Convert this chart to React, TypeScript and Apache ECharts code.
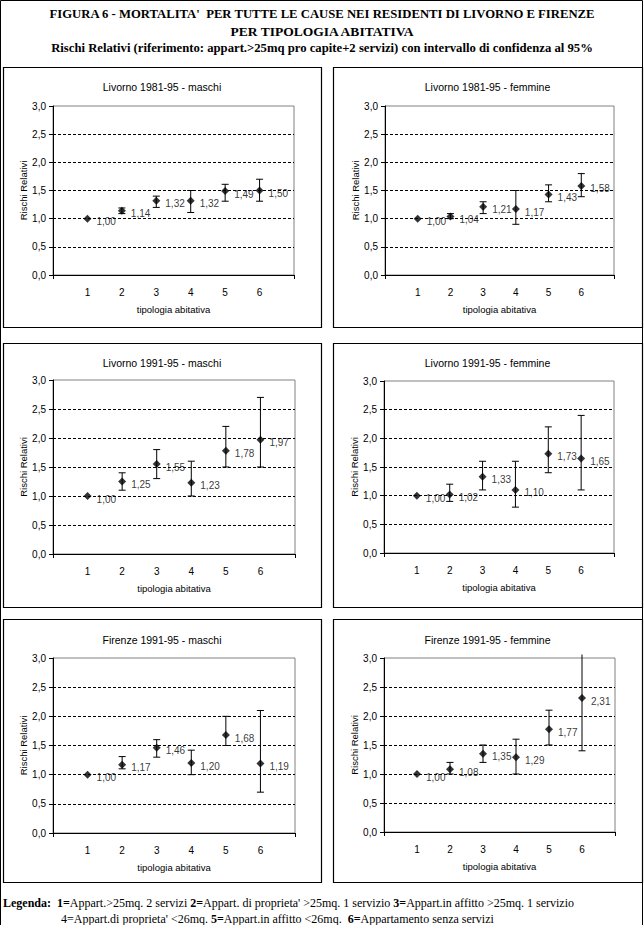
import React, { useEffect, useRef } from "react";
import * as echarts from "echarts";

// ---------- data ----------
const categories = [1, 2, 3, 4, 5, 6];
const yTicks = [0, 0.5, 1, 1.5, 2, 2.5, 3];

const panelTitles = [
  "Livorno 1981-95 - maschi",
  "Livorno 1981-95 - femmine",
  "Livorno 1991-95 - maschi",
  "Livorno 1991-95 - femmine",
  "Firenze 1991-95 - maschi",
  "Firenze 1991-95 - femmine",
];

const rrLivorno8195M = [1.0, 1.14, 1.32, 1.32, 1.49, 1.5];
const loLivorno8195M = [null, 1.09, 1.2, 1.11, 1.31, 1.31];
const hiLivorno8195M = [null, 1.19, 1.4, 1.5, 1.61, 1.7];

const rrLivorno8195F = [1.0, 1.04, 1.21, 1.17, 1.43, 1.58];
const loLivorno8195F = [null, 1.0, 1.09, 0.9, 1.3, 1.39];
const hiLivorno8195F = [null, 1.09, 1.3, 1.5, 1.6, 1.8];

const rrLivorno9195M = [1.0, 1.25, 1.55, 1.23, 1.78, 1.97];
const loLivorno9195M = [null, 1.1, 1.3, 1.0, 1.5, 1.5];
const hiLivorno9195M = [null, 1.4, 1.8, 1.6, 2.2, 2.7];

const rrLivorno9195F = [1.0, 1.02, 1.33, 1.1, 1.73, 1.65];
const loLivorno9195F = [null, 0.9, 1.1, 0.8, 1.4, 1.1];
const hiLivorno9195F = [null, 1.2, 1.6, 1.6, 2.2, 2.4];

const rrFirenze9195M = [1.0, 1.17, 1.46, 1.2, 1.68, 1.19];
const loFirenze9195M = [null, 1.1, 1.3, 1.0, 1.5, 0.7];
const hiFirenze9195M = [null, 1.31, 1.6, 1.42, 2.0, 2.1];

const rrFirenze9195F = [1.0, 1.08, 1.35, 1.29, 1.77, 2.31];
const loFirenze9195F = [null, 1.0, 1.2, 1.0, 1.5, 1.4];
const hiFirenze9195F = [null, 1.2, 1.5, 1.6, 2.1, 3.06];

const titleLines = [
  "FIGURA 6 - MORTALITA'  PER TUTTE LE CAUSE NEI RESIDENTI DI LIVORNO E FIRENZE",
  "PER TIPOLOGIA ABITATIVA",
  "Rischi Relativi (riferimento: appart.>25mq pro capite+2 servizi) con intervallo di confidenza al 95%",
];
const xAxisName = "tipologia abitativa";
const yAxisName = "Rischi Relativi";

// ---------- layout ----------
const SANS = '"Liberation Sans", Arial, sans-serif';
const SERIF = '"Liberation Serif", "Times New Roman", serif';
const Y_MAX = 3;

const frames = [
  { box: [3, 67, 318, 260], grid: [53, 106, 241, 169], titleY: 87 },
  { box: [333, 67, 309, 260], grid: [385, 106, 229, 169], titleY: 87 },
  { box: [3, 343, 318, 264], grid: [53, 380, 242, 174], titleY: 363 },
  { box: [333, 343, 309, 264], grid: [384, 381, 230, 172], titleY: 363 },
  { box: [3, 619, 318, 263], grid: [53, 658, 242, 175], titleY: 640 },
  { box: [333, 619, 309, 263], grid: [384, 658, 231, 174], titleY: 640 },
];

const panels = [
  { rr: rrLivorno8195M, lo: loLivorno8195M, hi: hiLivorno8195M },
  { rr: rrLivorno8195F, lo: loLivorno8195F, hi: hiLivorno8195F },
  { rr: rrLivorno9195M, lo: loLivorno9195M, hi: hiLivorno9195M },
  { rr: rrLivorno9195F, lo: loLivorno9195F, hi: hiLivorno9195F },
  { rr: rrFirenze9195M, lo: loFirenze9195M, hi: hiFirenze9195M },
  { rr: rrFirenze9195F, lo: loFirenze9195F, hi: hiFirenze9195F },
];

const fmt = (v: number, d: number) => v.toFixed(d).replace(".", ",");

function buildOption() {
  const grid: any[] = [];
  const xAxis: any[] = [];
  const yAxis: any[] = [];
  const series: any[] = [];
  const graphic: any[] = [];

  // outer page border
  graphic.push({
    type: "rect",
    shape: { x: 0.5, y: 0.5, width: 642, height: 940 },
    style: { fill: "none", stroke: "#000", lineWidth: 1 },
    silent: true,
  });

  titleLines.forEach((t, i) => {
    graphic.push({
      type: "text",
      x: 322,
      y: [14, 31, 48][i],
      style: {
        text: t,
        fill: "#000",
        font: `bold ${i === 1 ? 13.5 : 12.7}px ${SERIF}`,
        align: "center",
        verticalAlign: "middle",
      },
      silent: true,
    });
  });

  frames.forEach((f, i) => {
    const [bx, by, bw, bh] = f.box;
    const [gl, gt, gw, gh] = f.grid;
    graphic.push({
      type: "rect",
      shape: { x: bx + 0.5, y: by + 0.5, width: bw, height: bh },
      style: { fill: "none", stroke: "#000", lineWidth: 1.2 },
      silent: true,
    });
    graphic.push({
      type: "text",
      x: bx + bw / 2,
      y: f.titleY,
      style: {
        text: panelTitles[i],
        fill: "#000",
        font: `10.5px ${SANS}`,
        align: "center",
        verticalAlign: "middle",
      },
      silent: true,
    });

    grid.push({
      left: gl,
      top: gt,
      width: gw,
      height: gh,
      show: true,
      borderColor: "#808080",
      borderWidth: 1,
      backgroundColor: "#fff",
    });

    xAxis.push({
      gridIndex: i,
      type: "value",
      min: 0,
      max: 7,
      interval: 1,
      name: xAxisName,
      nameLocation: "middle",
      nameGap: 29,
      nameTextStyle: { fontFamily: SANS, fontSize: 9.5, color: "#000" },
      axisLine: { show: true, onZero: false, lineStyle: { color: "#000", width: 1 } },
      axisTick: { show: true, length: 4, customValues: [0, 7], lineStyle: { color: "#000" } },
      axisLabel: {
        customValues: categories,
        formatter: (v: number) => (v >= 1 && v <= 6 ? String(v) : ""),
        fontFamily: SANS,
        fontSize: 10,
        color: "#000",
        margin: 12,
      },
      splitLine: { show: false },
    });

    yAxis.push({
      gridIndex: i,
      type: "value",
      min: yTicks[0],
      max: yTicks[yTicks.length - 1],
      interval: 0.5,
      name: yAxisName,
      nameLocation: "middle",
      nameGap: 25,
      nameTextStyle: { fontFamily: SANS, fontSize: 9.5, color: "#000" },
      axisLine: { show: true, lineStyle: { color: "#000", width: 1 } },
      axisTick: { show: true, length: 4, lineStyle: { color: "#000" } },
      axisLabel: {
        formatter: (v: number) => fmt(v, 1),
        fontFamily: SANS,
        fontSize: 10,
        color: "#000",
        margin: 7,
      },
      splitLine: {
        show: true,
        lineStyle: {
          color: ["transparent", "#000", "#000", "#000", "#000", "#000", "transparent"],
          type: [3, 2],
          width: 1,
        },
      },
    });

    const p = panels[i];
    const errData = categories
      .map((c, j) => [c, p.lo[j], p.hi[j]])
      .filter((d) => d[1] != null && d[2] != null);

    series.push({
      type: "custom",
      xAxisIndex: i,
      yAxisIndex: i,
      silent: true,
      z: 2,
      data: errData,
      renderItem: (_params: any, api: any) => {
        const x = api.value(0);
        const lo = api.value(1);
        const hi = api.value(2);
        const pLo = api.coord([x, lo]);
        const pHi = api.coord([x, hi]);
        const half = 3.5;
        const children: any[] = [
          {
            type: "line",
            shape: { x1: pLo[0], y1: pLo[1], x2: pHi[0], y2: pHi[1] },
            style: { stroke: "#000", lineWidth: 1 },
          },
          {
            type: "line",
            shape: { x1: pLo[0] - half, y1: pLo[1], x2: pLo[0] + half, y2: pLo[1] },
            style: { stroke: "#000", lineWidth: 1 },
          },
        ];
        if (hi <= Y_MAX) {
          children.push({
            type: "line",
            shape: { x1: pHi[0] - half, y1: pHi[1], x2: pHi[0] + half, y2: pHi[1] },
            style: { stroke: "#000", lineWidth: 1 },
          });
        }
        return { type: "group", children };
      },
    });

    series.push({
      type: "scatter",
      xAxisIndex: i,
      yAxisIndex: i,
      symbol: "diamond",
      symbolSize: 8,
      silent: true,
      z: 3,
      itemStyle: { color: "#000" },
      data: categories.map((c, j) => [c, p.rr[j]]),
      label: {
        show: true,
        position: "right",
        distance: 5,
        offset: [0, 3],
        formatter: (prm: any) => fmt(prm.value[1], 2),
        fontFamily: SANS,
        fontSize: 10,
        color: "#000",
      },
    });
  });

  const LEG = 12;
  const rich = {
    b: { fontFamily: SERIF, fontSize: LEG, fontWeight: "bold", fill: "#000" },
    n: { fontFamily: SERIF, fontSize: LEG, fill: "#000" },
  };
  graphic.push({
    type: "text",
    x: 3,
    y: 903,
    style: {
      text:
        "{b|Legenda:}{n|  }{b|1=}{n|Appart.>25mq. 2 servizi }{b|2=}{n|Appart. di proprieta' >25mq. 1 servizio }{b|3=}{n|Appart.in affitto >25mq. 1 servizio}",
      rich,
      font: `${LEG}px ${SERIF}`,
      fill: "#000",
      align: "left",
      verticalAlign: "middle",
    },
    silent: true,
  });
  graphic.push({
    type: "text",
    x: 61,
    y: 919,
    style: {
      text:
        "{n|4=Appart.di proprieta' <26mq. }{b|5=}{n|Appart.in affitto <26mq.  }{b|6=}{n|Appartamento senza servizi}",
      rich,
      font: `${LEG}px ${SERIF}`,
      fill: "#000",
      align: "left",
      verticalAlign: "middle",
    },
    silent: true,
  });

  return {
    animation: false,
    backgroundColor: "#fff",
    grid,
    xAxis,
    yAxis,
    series,
    graphic,
  };
}

export default function App() {
  const ref = useRef<HTMLDivElement>(null);
  useEffect(() => {
    if (!ref.current) return;
    const chart = echarts.init(ref.current, null, { renderer: "svg" });
    chart.setOption(buildOption() as any);
    return () => chart.dispose();
  }, []);
  return (
    <div
      ref={ref}
      style={{ position: "absolute", left: 0, top: 0, width: 644, height: 925, background: "#fff" }}
    />
  );
}
